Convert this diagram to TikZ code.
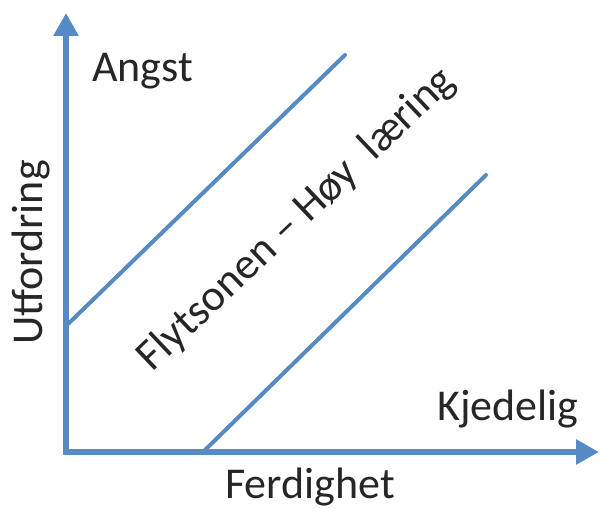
\documentclass[tikz,border=0pt]{standalone}
\usepackage{fontspec}
\setmainfont{Carlito}
\usetikzlibrary{arrows.meta}
\definecolor{axisblue}{RGB}{86,138,197}
\definecolor{txt}{RGB}{38,38,38}
\begin{document}
\begin{tikzpicture}[x=1pt,y=-1pt,
  axisline/.style={draw=axisblue,line width=6pt,-{Triangle[length=23pt,width=24pt]}},
  zoneline/.style={draw=axisblue,line width=4pt,line cap=round},
  lbl/.style={text=txt,inner sep=0pt,font=\fontsize{44}{50}\selectfont}]
\useasboundingbox (0,0) rectangle (601,508);
\fill[white] (0,0) rectangle (601,508);
\coordinate (o) at (66,452);
\coordinate (ytip) at (66,13);
\coordinate (xtip) at (599,452);
\coordinate (a1) at (67,325);
\coordinate (a2) at (345,55);
\coordinate (b1) at (205,450);
\coordinate (b2) at (486,175);
\draw[zoneline] (a1) -- (a2);
\draw[zoneline] (b1) -- (b2);
\draw[axisline] ([yshift=3pt]o) -- (ytip);
\draw[axisline] ([xshift=-3pt]o) -- (xtip);
\node[lbl,anchor=base west] (angst) at (92,82) {Angst};
\node[lbl,anchor=base west] (kjed) at (437,420) {Kjedelig};
\node[lbl,anchor=base west] (ferd) at (225,498) {Ferdighet};
\node[lbl,anchor=base west,rotate=90] (utf) at (42,345) {Utfordring};
\node[lbl,anchor=base,rotate=43.5] (flyt) at (305,228) {Flytsonen – Høy~~læring};
\end{tikzpicture}
\end{document}
